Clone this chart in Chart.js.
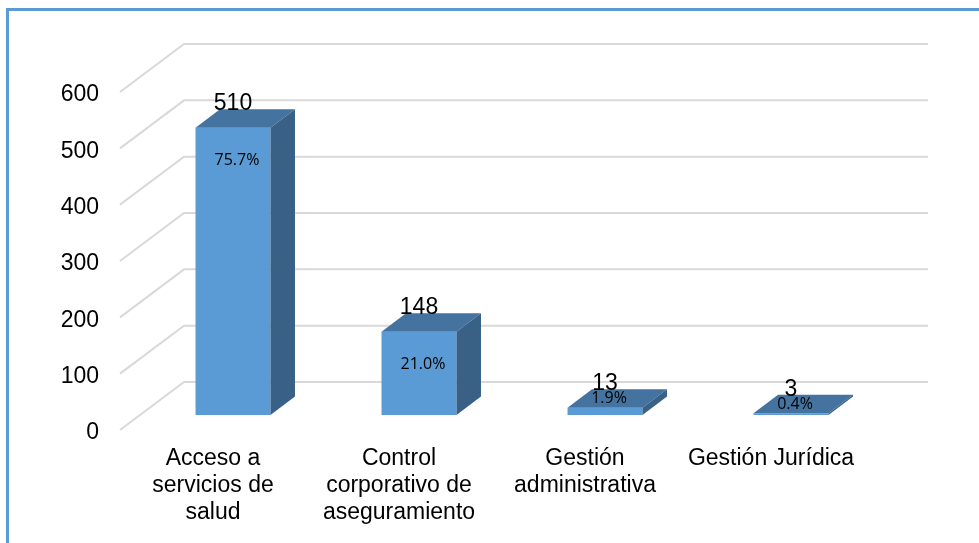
<!DOCTYPE html>
<html>
<head>
<meta charset="utf-8">
<script src="https://cdn.jsdelivr.net/npm/chart.js@4"></script>
<style>
    html, body { margin: 0; padding: 0; background: #fff; overflow: hidden; }
    #wrap { position: relative; width: 979px; height: 543px; }
    #frame { position: absolute; left: 6px; top: 8px; width: 1200px; height: 900px; border: 3px solid #5b9bd5; box-sizing: border-box; }
    #chart { position: absolute; left: 0; top: 0; }
</style>
</head>
<body>
<div id="wrap">
    <div id="frame"></div>
    <canvas id="chart" width="979" height="543"></canvas>
</div>
<script>
// data
const categories = [
    ['Acceso a', 'servicios de', 'salud'],
    ['Control', 'corporativo de', 'aseguramiento'],
    ['Gestión', 'administrativa'],
    'Gestión Jurídica'
];
const counts = [510, 148, 13, 3];
const percentLabels = ['75.7%', '21.0%', '1.9%', '0.4%'];
const yTicks = [0, 100, 200, 300, 400, 500, 600];

// fake 3D offsets (pixels), relative to the plane the bar fronts sit in
const barDepth = { dx: 24.5, dy: -18.5 };
const wallFront = { dx: -20, dy: 15 };
const wallBack = { dx: 44, dy: -33 };

const FONT = "'Liberation Sans', Arial, sans-serif";

const box3d = {
    id: 'box3d',
    beforeDatasetsDraw(chart) {
        const { ctx, chartArea, scales: { y } } = chart;
        ctx.save();
        ctx.strokeStyle = '#d9d9d9';
        ctx.lineWidth = 2;
        yTicks.forEach(v => {
            const py = y.getPixelForValue(v);
            ctx.beginPath();
            ctx.moveTo(chartArea.left + wallFront.dx, py + wallFront.dy);
            ctx.lineTo(chartArea.left + wallBack.dx, py + wallBack.dy);
            ctx.lineTo(chartArea.right + wallBack.dx, py + wallBack.dy);
            ctx.stroke();
        });
        ctx.restore();
    },
    afterDatasetsDraw(chart) {
        const ctx = chart.ctx;
        const meta = chart.getDatasetMeta(0);
        const { dx, dy } = barDepth;
        ctx.save();
        meta.data.forEach((bar, i) => {
            const left = bar.x - bar.width / 2;
            const right = bar.x + bar.width / 2;
            const top = bar.y;
            const base = bar.base;

            // top face
            ctx.fillStyle = '#44739f';
            ctx.beginPath();
            ctx.moveTo(left, top);
            ctx.lineTo(left + dx, top + dy);
            ctx.lineTo(right + dx, top + dy);
            ctx.lineTo(right, top);
            ctx.closePath();
            ctx.fill();

            // right side face
            ctx.fillStyle = '#386185';
            ctx.beginPath();
            ctx.moveTo(right, top);
            ctx.lineTo(right + dx, top + dy);
            ctx.lineTo(right + dx, base + dy);
            ctx.lineTo(right, base);
            ctx.closePath();
            ctx.fill();

            // count above the box
            ctx.fillStyle = '#000';
            ctx.font = '23px ' + FONT;
            ctx.textAlign = 'center';
            ctx.textBaseline = 'alphabetic';
            ctx.fillText(String(counts[i]), bar.x, top + dy + 1);

            // percentage inside the box, or on the lid when the box is flat
            ctx.font = "16px 'Open Sans', sans-serif";
            ctx.textBaseline = 'middle';
            const py = (base - top) > 40 ? top + 33 : top + dy / 2;
            ctx.fillText(percentLabels[i], bar.x + 4, py);
        });
        ctx.restore();
    }
};

new Chart(document.getElementById('chart'), {
    type: 'bar',
    data: {
        labels: categories,
        datasets: [{
            data: counts,
            backgroundColor: '#5b9bd5',
            borderWidth: 0,
            barPercentage: 0.403,
            categoryPercentage: 1
        }]
    },
    options: {
        responsive: false,
        animation: false,
        layout: { padding: { top: 77, right: 95, left: 0, bottom: 0 } },
        plugins: {
            legend: { display: false },
            tooltip: { enabled: false }
        },
        scales: {
            x: {
                grid: { display: false, drawTicks: false },
                border: { display: false },
                ticks: {
                    color: '#000',
                    font: { family: FONT, size: 23, lineHeight: 1.174 },
                    padding: 30,
                    labelOffset: -20,
                    maxRotation: 0,
                    autoSkip: false
                },
                afterFit(scale) { scale.height = 128; }
            },
            y: {
                min: 0,
                max: 600,
                grid: { display: false, drawTicks: false },
                border: { display: false },
                ticks: {
                    stepSize: 100,
                    color: '#000',
                    font: { family: FONT, size: 23 },
                    padding: 41,
                    labelOffset: 18
                },
                afterFit(scale) { scale.width = 140; }
            }
        }
    },
    plugins: [box3d]
});
</script>
</body>
</html>
